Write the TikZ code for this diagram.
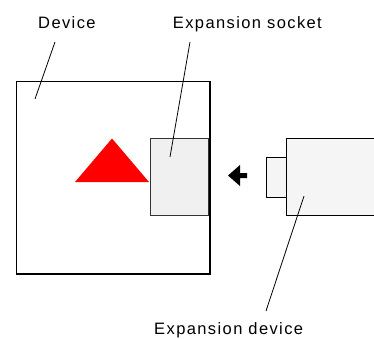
\documentclass[tikz,border=0pt]{standalone}
\usepackage{fontspec}
\setmainfont{Liberation Sans}
\newfontfamily\lblfont[LetterSpace=8.5]{Liberation Sans}
\usepackage{tikz}
\usetikzlibrary{calc, positioning}

\begin{document}
\begin{tikzpicture}[x=1pt, y=-1pt,
    lbl/.style={font=\lblfont\fontsize{16.5}{20}\selectfont, inner sep=0pt, anchor=base west},
    box/.style={draw, inner sep=0pt, anchor=north west},
    leader/.style={draw, line width=0.8pt}]
  \useasboundingbox (0,0) rectangle (374,338);
  % the device
  \node[box, line width=1.6pt, minimum width=193.5pt, minimum height=192.5pt] (dev) at (15.5,80.5) {};
  % socket on the right wall
  \node[box, draw=black!80, fill=black!6, line width=0.9pt, minimum width=58pt, minimum height=77pt] (sock) at (150,138) {};
  % red triangle
  \fill[red] (75,182) -- (149,182) -- (112,138.5) -- cycle;
  % insertion arrow
  \fill (228,175.5) -- (240,165) -- (240,173) -- (247,173) -- (247,178) -- (240,178) -- (240,186) -- cycle;
  % expansion device with its plug
  \node[box, fill=black!4, line width=1pt, minimum width=20pt, minimum height=40pt] (plug) at (266,157) {};
  \node[box, fill=black!4, line width=1pt, minimum width=100pt, minimum height=77pt] (card) at (286,138) {};
  % labels
  \node[lbl] (devlbl) at (38,28.3) {Device};
  \node[lbl] (socklbl) at (172.7,28.3) {Expansion socket};
  \node[lbl] (cardlbl) at (154,334.3) {Expansion device};
  % leader lines
  \coordinate (devtop) at (55,42);
  \coordinate (devend) at (35,99);
  \coordinate (socktop) at (190,42);
  \coordinate (sockend) at (170,157);
  \coordinate (cardtop) at (304,196);
  \coordinate (cardend) at (266,311);
  \draw[leader] (devtop) -- (devend);
  \draw[leader] (socktop) -- (sockend);
  \draw[leader] (cardtop) -- (cardend);
\end{tikzpicture}
\end{document}
